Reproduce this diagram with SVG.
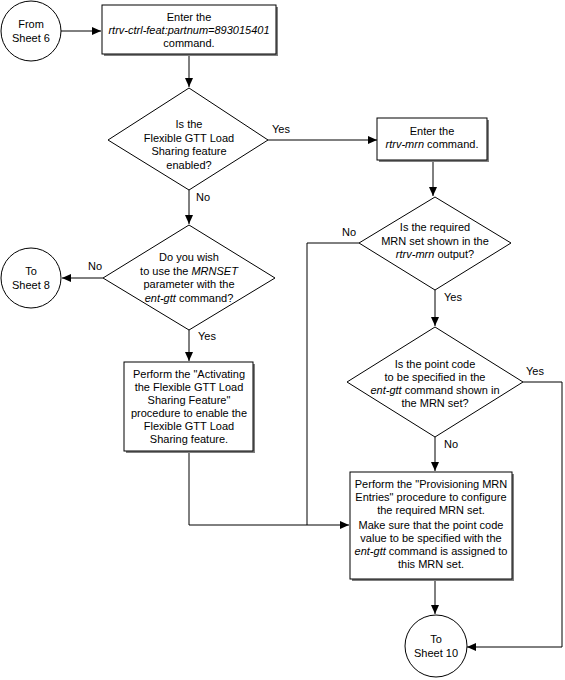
<svg xmlns="http://www.w3.org/2000/svg" width="565" height="680" viewBox="0 0 565 680">
<style>
.s{fill:#fff;stroke:#000;stroke-width:1}
.sh{fill:#808080;stroke:none}
text{font-family:"Liberation Sans",Arial,sans-serif;font-size:11px;fill:#000;text-anchor:middle}
.l{text-anchor:start}
.i{font-style:italic}
.c{fill:none;stroke:#000;stroke-width:1}
</style>
<defs>
<marker id="a" markerWidth="10" markerHeight="10" refX="9" refY="5" orient="auto" markerUnits="userSpaceOnUse">
<path d="M0,1 L9,5 L0,9 Z" fill="#000"/>
</marker>
</defs>
<rect width="565" height="680" fill="#fff"/>
<g id="connectors">
<path class="c" d="M61,31 H101" marker-end="url(#a)"/>
<path class="c" d="M189,54 V87" marker-end="url(#a)"/>
<path class="c" d="M268,140 H377" marker-end="url(#a)"/>
<path class="c" d="M189,190 V224" marker-end="url(#a)"/>
<path class="c" d="M433,160 V196" marker-end="url(#a)"/>
<path class="c" d="M103,278 H62" marker-end="url(#a)"/>
<path class="c" d="M189,330 V361" marker-end="url(#a)"/>
<path class="c" d="M359,243 H307 V525"/>
<path class="c" d="M189,451 V525 H349" marker-end="url(#a)"/>
<path class="c" d="M435,290 V326" marker-end="url(#a)"/>
<path class="c" d="M435,437 V471" marker-end="url(#a)"/>
<path class="c" d="M523,382 H562 V647 H467" marker-end="url(#a)"/>
<path class="c" d="M435,580 V614" marker-end="url(#a)"/>
<text class="l" x="272" y="133">Yes</text>
<text class="l" x="196" y="201">No</text>
<text class="l" x="88" y="270">No</text>
<text class="l" x="198" y="340">Yes</text>
<text class="l" x="342" y="236">No</text>
<text class="l" x="444" y="301">Yes</text>
<text class="l" x="526" y="375">Yes</text>
<text class="l" x="444" y="448">No</text>
</g>
<g id="from6">
<circle class="s" cx="31" cy="31" r="30"/>
<text x="31" y="28">From</text>
<text x="31" y="42">Sheet 6</text>
</g>
<g id="box1">
<rect class="sh" x="104" y="7" width="174" height="49"/>
<rect class="s" x="102" y="5" width="174" height="49"/>
<text x="189" y="21">Enter the</text>
<text x="189" y="34" class="i">rtrv-ctrl-feat:partnum=893015401</text>
<text x="189" y="47">command.</text>
</g>
<g id="dia1">
<polygon class="s" points="189,88 268,140 189,190 108,140"/>
<text x="189" y="128">Is the</text>
<text x="189" y="142">Flexible GTT Load</text>
<text x="189" y="155">Sharing feature</text>
<text x="189" y="169">enabled?</text>
</g>
<g id="box2">
<rect class="sh" x="379" y="120" width="110" height="42"/>
<rect class="s" x="377" y="118" width="110" height="42"/>
<text x="432" y="135">Enter the</text>
<text x="432" y="148"><tspan class="i">rtrv-mrn</tspan> command.</text>
</g>
<g id="dia2">
<polygon class="s" points="435,197 511,243 435,290 359,243"/>
<text x="435" y="231">Is the required</text>
<text x="435" y="245">MRN set shown in the</text>
<text x="435" y="258"><tspan class="i">rtrv-mrn</tspan> output?</text>
</g>
<g id="dia3">
<polygon class="s" points="189,225 275,278 189,330 103,278"/>
<text x="189" y="261">Do you wish</text>
<text x="189" y="275">to use the <tspan class="i">MRNSET</tspan></text>
<text x="189" y="288">parameter with the</text>
<text x="189" y="302"><tspan class="i">ent-gtt</tspan> command?</text>
</g>
<g id="to8">
<circle class="s" cx="31" cy="278" r="30"/>
<text x="31" y="275">To</text>
<text x="31" y="289">Sheet 8</text>
</g>
<g id="box3">
<rect class="sh" x="126" y="364" width="129" height="89"/>
<rect class="s" x="124" y="362" width="129" height="89"/>
<text x="189" y="378">Perform the "Activating</text>
<text x="189" y="391">the Flexible GTT Load</text>
<text x="189" y="404">Sharing Feature"</text>
<text x="189" y="417">procedure to enable the</text>
<text x="189" y="430">Flexible GTT Load</text>
<text x="189" y="443">Sharing feature.</text>
</g>
<g id="dia4">
<polygon class="s" points="435,327 523,382 435,437 347,382"/>
<text x="435" y="368">Is the point code</text>
<text x="435" y="381">to be specified in the</text>
<text x="435" y="394"><tspan class="i">ent-gtt</tspan> command shown in</text>
<text x="435" y="407">the MRN set?</text>
</g>
<g id="box4">
<rect class="sh" x="352" y="474" width="162" height="107"/>
<rect class="s" x="350" y="472" width="162" height="107"/>
<text x="431" y="488">Perform the "Provisioning MRN</text>
<text x="431" y="501">Entries" procedure to configure</text>
<text x="431" y="514">the required MRN set.</text>
<text x="431" y="529">Make sure that the point code</text>
<text x="431" y="542">value to be specified with the</text>
<text x="431" y="555"><tspan class="i">ent-gtt</tspan> command is assigned to</text>
<text x="431" y="568">this MRN set.</text>
</g>
<g id="to10">
<circle class="s" cx="436" cy="646" r="31"/>
<text x="436" y="643">To</text>
<text x="436" y="657">Sheet 10</text>
</g>
</svg>
